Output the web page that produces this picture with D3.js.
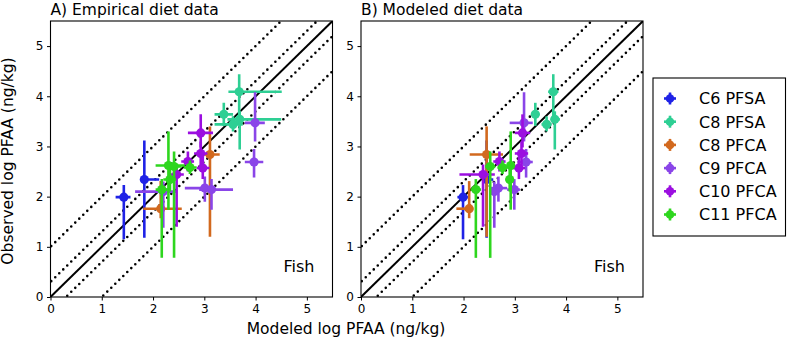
<!DOCTYPE html>
<html><head><meta charset="utf-8">
<script src="https://cdn.jsdelivr.net/npm/d3@7"></script>
<style>
body{margin:0;background:#fff;}
svg{display:block;font-family:"DejaVu Sans",sans-serif;}
</style></head><body>
<svg id="chart" width="787" height="344"></svg>
<script>
const categories = ["C6 PFSA","C8 PFSA","C8 PFCA","C9 PFCA","C10 PFCA","C11 PFCA"];
const colors = ["#1f22e6","#2ecf94","#d2691e","#8a45e8","#9b0ee0","#2ed61e"];
const panelTitles = ["A) Empirical diet data","B) Modeled diet data"];
const tickValues = [0,1,2,3,4,5];

// observed log PFAA (shared by both panels)
const observed     = [[1.99,2.34],[4.09,3.64,3.44,3.54],[2.84,1.76],[3.47,2.69,2.17,2.14,2.10],[3.27,2.86,2.57,2.44,2.70],[2.62,2.60,2.58,2.34,2.14]];
const observedLow  = [[1.15,1.18],[3.54,3.41,3.30,2.94],[1.20,1.57],[3.10,2.38,1.90,1.74,1.38],[2.98,2.60,2.35,1.40,2.50],[1.74,0.78,2.45,2.10,0.78]];
const observedHigh = [[2.23,3.12],[4.44,3.87,3.60,3.70],[3.40,2.31],[4.08,2.95,2.40,2.35,2.30],[3.64,3.10,2.80,2.64,2.90],[3.30,2.90,2.72,2.60,2.35]];
// modeled log PFAA, panel A (empirical diet)
const modeledA     = [[1.43,1.83],[3.68,3.38,3.56,3.69],[3.11,2.15],[3.99,3.97,3.01,3.14,2.20],[2.93,2.93,2.97,2.46,2.68],[2.30,2.41,2.72,2.33,2.17]];
const modeledALow  = [[1.27,1.75],[3.47,3.20,3.20,3.45],[3.00,1.81],[3.79,3.79,2.62,2.90,1.65],[2.68,2.80,2.85,2.30,2.55],[2.05,2.30,2.60,2.20,2.05]];
const modeledAHigh = [[1.56,2.12],[4.51,3.56,3.75,4.50],[3.30,2.56],[4.18,4.15,3.20,3.56,2.45],[3.17,3.06,3.10,2.60,2.80],[2.62,2.55,2.85,2.45,2.30]];
// modeled log PFAA, panel B (modeled diet)
const modeledB     = [[1.99,2.45],[3.75,3.40,3.62,3.78],[2.45,2.11],[3.18,3.22,2.68,2.99,2.60],[3.15,3.13,3.08,2.38,2.70],[2.92,2.52,2.76,2.90,2.24]];
const modeledBLow  = [[1.88,2.38],[3.65,3.32,3.52,3.70],[2.12,1.86],[2.90,3.05,2.52,2.85,2.50],[3.00,3.00,2.95,1.92,2.58],[2.85,2.42,2.66,2.82,2.14]];
const modeledBHigh = [[2.10,2.58],[3.85,3.48,3.72,3.88],[2.77,2.19],[3.35,3.35,2.85,3.10,2.70],[3.30,3.26,3.20,2.61,2.82],[3.00,2.62,2.86,2.98,2.34]];

const svg = d3.select("#chart");
const domain = [0,5.5];
const yScale = d3.scaleLinear().domain(domain).range([297,21]);
const panels = [
  {x0:50.5, x1:332.5, mod:modeledA, lo:modeledALow, hi:modeledAHigh},
  {x0:361, x1:643, mod:modeledB, lo:modeledBLow, hi:modeledBHigh}
];
const refLines = [
  {off:0, dash:null},
  {off:1, dash:"0,5.6"},{off:-1, dash:"0,5.6"},
  {off:Math.log10(2), dash:"0,5.6"},{off:-Math.log10(2), dash:"0,5.6"}
];

panels.forEach((p,pi)=>{
  const xScale = d3.scaleLinear().domain(domain).range([p.x0,p.x1]);
  const g = svg.append("g");
  const clipId = "clip"+pi;
  svg.append("clipPath").attr("id",clipId).append("rect")
    .attr("x",p.x0).attr("y",21).attr("width",p.x1-p.x0).attr("height",276);
  const plot = g.append("g").attr("clip-path",`url(#${clipId})`);
  refLines.forEach(r=>{
    plot.append("line")
      .attr("x1",xScale(-1)).attr("y1",yScale(-1+r.off))
      .attr("x2",xScale(7)).attr("y2",yScale(7+r.off))
      .attr("stroke","#000").attr("stroke-width",r.dash?2.6:2)
      .attr("stroke-dasharray",r.dash).attr("stroke-linecap",r.dash?"round":"butt");
  });
  categories.forEach((c,si)=>{
    const sg = plot.append("g");
    const idx = d3.range(observed[si].length);
    sg.selectAll("line.v").data(idx).join("line").attr("class","v")
      .attr("x1",i=>xScale(p.mod[si][i])).attr("x2",i=>xScale(p.mod[si][i]))
      .attr("y1",i=>yScale(observedLow[si][i])).attr("y2",i=>yScale(observedHigh[si][i]))
      .attr("stroke",colors[si]).attr("stroke-width",2.6);
    sg.selectAll("line.h").data(idx).join("line").attr("class","h")
      .attr("x1",i=>xScale(p.lo[si][i])).attr("x2",i=>xScale(p.hi[si][i]))
      .attr("y1",i=>yScale(observed[si][i])).attr("y2",i=>yScale(observed[si][i]))
      .attr("stroke",colors[si]).attr("stroke-width",2.6);
    sg.selectAll("circle").data(idx).join("circle")
      .attr("cx",i=>xScale(p.mod[si][i])).attr("cy",i=>yScale(observed[si][i]))
      .attr("r",4.6).attr("fill",colors[si]);
  });
  // axes
  const xAxis = d3.axisBottom(xScale).tickValues(tickValues).tickSize(3.5).tickPadding(3.5).tickFormat(d3.format("d"));
  const yAxis = d3.axisLeft(yScale).tickValues(tickValues).tickSize(3.5).tickPadding(3.5).tickFormat(d3.format("d"));
  const xa = g.append("g").attr("transform","translate(0,297)").call(xAxis);
  const ya = g.append("g").attr("transform",`translate(${p.x0},0)`).call(yAxis);
  [xa,ya].forEach(a=>{
    a.select(".domain").remove();
    a.selectAll("text").attr("font-size",12).attr("fill","#000").attr("font-family","DejaVu Sans");
    a.selectAll("line").attr("stroke","#000").attr("stroke-width",1);
  });
  g.append("rect").attr("x",p.x0).attr("y",21).attr("width",p.x1-p.x0).attr("height",276)
    .attr("fill","none").attr("stroke","#000").attr("stroke-width",1.1);
  g.append("text").attr("x",p.x0).attr("y",15).attr("font-size",15.5).text(panelTitles[pi]);
  g.append("text").attr("x",p.x1-18).attr("y",272).attr("text-anchor","end").attr("font-size",16).text("Fish");
});

svg.append("text").attr("transform","translate(13,161) rotate(-90)")
  .attr("text-anchor","middle").attr("font-size",15.5).text("Observed log PFAA (ng/kg)");
svg.append("text").attr("x",346).attr("y",334)
  .attr("text-anchor","middle").attr("font-size",15.5).text("Modeled log PFAA (ng/kg)");

// legend
const lg = svg.append("g");
lg.append("rect").attr("x",653).attr("y",78).attr("width",132.5).attr("height",158)
  .attr("fill","#fff").attr("stroke","#000").attr("stroke-width",1.1);
categories.forEach((c,i)=>{
  const cy = 98.5 + i*23.2;
  lg.append("line").attr("x1",664).attr("x2",676).attr("y1",cy).attr("y2",cy).attr("stroke",colors[i]).attr("stroke-width",2.6);
  lg.append("line").attr("x1",670).attr("x2",670).attr("y1",cy-6).attr("y2",cy+6).attr("stroke",colors[i]).attr("stroke-width",2.6);
  lg.append("circle").attr("cx",670).attr("cy",cy).attr("r",4.3).attr("fill",colors[i]);
  lg.append("text").attr("x",699).attr("y",cy+5.8).attr("font-size",16).text(c);
});
</script>
</body></html>
